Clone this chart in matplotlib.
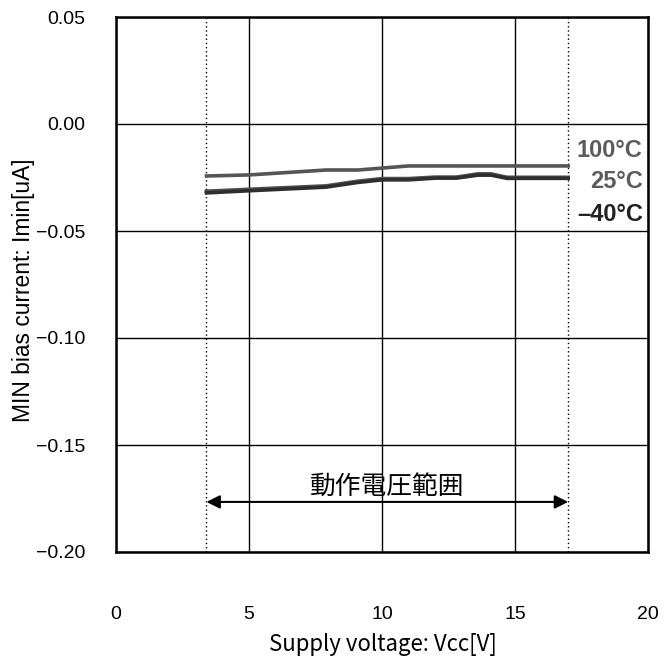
import numpy as np
import matplotlib.pyplot as plt

plt.rcParams['font.family'] = ['Liberation Sans', 'DejaVu Sans']

vcc_100 = [3.4, 5.0, 7.9, 9.1, 11.0, 13.0, 15.0, 17.0]
imin_100 = [-0.0243, -0.0238, -0.0215, -0.0215, -0.0196, -0.0196, -0.0196, -0.0196]

vcc_25 = [3.4, 5.0, 7.9, 9.1, 10.0, 11.0, 12.0, 12.8, 13.6, 14.1, 14.7, 17.0]
imin_25 = [-0.0314, -0.0305, -0.0289, -0.0267, -0.0255, -0.0255, -0.0248, -0.0248,
           -0.0233, -0.0233, -0.0249, -0.0249]

vcc_m40 = [3.4, 5.0, 7.9, 9.1, 10.0, 11.0, 12.0, 12.8, 13.6, 14.1, 14.7, 17.0]
imin_m40 = [-0.0322, -0.0312, -0.0295, -0.0273, -0.0261, -0.0261, -0.0253, -0.0253,
            -0.0239, -0.0239, -0.0254, -0.0254]

range_lo, range_hi = 3.4, 17.0

fig = plt.figure(figsize=(6.72, 6.59), dpi=100)
ax = fig.add_axes([116 / 672, 1 - 552 / 659, 532 / 672, 535 / 659])

ax.set_xlim(0, 20)
ax.set_ylim(-0.20, 0.05)
ax.set_xticks([0, 5, 10, 15, 20])
ax.set_yticks([-0.20, -0.15, -0.10, -0.05, 0.00, 0.05])
ax.set_yticklabels([f"{v:.2f}".replace("-", "\u2212") for v in ax.get_yticks()])
ax.tick_params(length=0, labelsize=14)
ax.tick_params(axis='y', pad=22)
ax.tick_params(axis='x', pad=39)
ax.grid(True, color='black', linewidth=1.0)
for s in ax.spines.values():
    s.set_linewidth(1.8)

ax.axvline(range_lo, color='black', linestyle=(0, (1, 2)), linewidth=1.0)
ax.axvline(range_hi, color='black', linestyle=(0, (1, 2)), linewidth=1.0)

ax.plot(vcc_100, imin_100, color='#555555', linewidth=2.6)
ax.plot(vcc_25, imin_25, color='#505050', linewidth=2.6)
ax.plot(vcc_m40, imin_m40, color='#2e2e2e', linewidth=2.6)

ax.text(19.8, -0.0126, "100°C", ha='right', va='center', fontsize=17,
        fontweight='bold', color='#5c5c5c')
ax.text(19.8, -0.0271, "25°C", ha='right', va='center', fontsize=17,
        fontweight='bold', color='#5c5c5c')
ax.text(19.8, -0.0425, "\u201340°C", ha='right', va='center', fontsize=17,
        fontweight='bold', color='#222222')

ax.annotate("", xy=(range_lo, -0.1766), xytext=(range_hi, -0.1766),
            arrowprops=dict(arrowstyle='<|-|>', color='black', linewidth=1.5,
                            mutation_scale=20, shrinkA=0, shrinkB=0))
ax.text((range_lo + range_hi) / 2, -0.1696, "動作電圧範囲", ha='center', va='center',
        fontsize=18.5, family=['Noto Sans CJK JP'])

fig.text(383 / 672, 1 - 645 / 659, "Supply voltage: Vcc[V]", ha='center', va='center',
         fontsize=16, family=['Noto Sans CJK JP'])
fig.text(24 / 672, 1 - 290 / 659, "MIN bias current: Imin[uA]", ha='center',
         va='center', rotation=90, fontsize=16.4)

fig.savefig("out.png", dpi=100)
